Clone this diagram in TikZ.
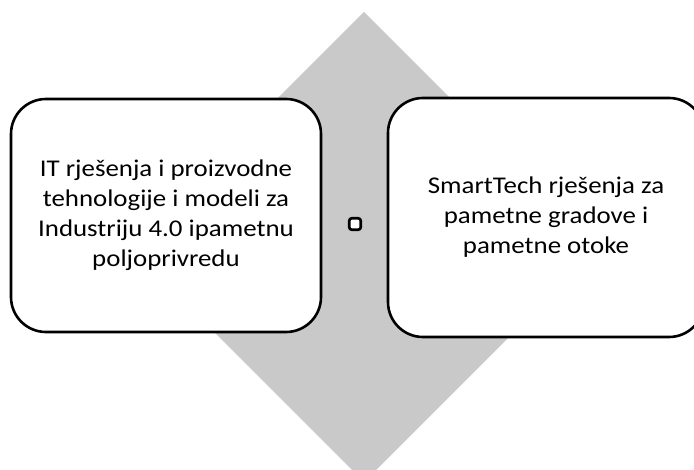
\documentclass[tikz,border=0pt]{standalone}
\usepackage{fontspec}
\setmainfont{Carlito}[FakeStretch=1.12]
\definecolor{diamondgray}{RGB}{201,201,201}
\begin{document}
\begin{tikzpicture}[x=1pt,y=-1pt,
  box/.style={draw=black, line width=2.6pt, fill=white, rounded corners=35pt,
    align=center, font=\fontsize{24}{30}\selectfont, inner sep=0pt},
  marker/.style={draw=black, line width=2.6pt, fill=white, rounded corners=2.5pt,
    minimum size=11.5pt, inner sep=0pt}]
\useasboundingbox (0,0) rectangle (694,470);
\clip (0,0) rectangle (694,470);
\fill[diamondgray] (364,12) -- (599,247) -- (364,482) -- (129,247) -- cycle;
\node[box, minimum width=310pt, minimum height=233pt] (left) at (166,215.5)
  {IT rješenja i proizvodne\\tehnologije i modeli za\\Industriju 4.0 ipametnu\\poljoprivredu};
\node[box, minimum width=316pt, minimum height=239pt] (right) at (546,217.5)
  {SmartTech rješenja za\\pametne gradove i\\pametne otoke};
\node[marker] (mid) at (355,224) {};
\end{tikzpicture}
\end{document}
